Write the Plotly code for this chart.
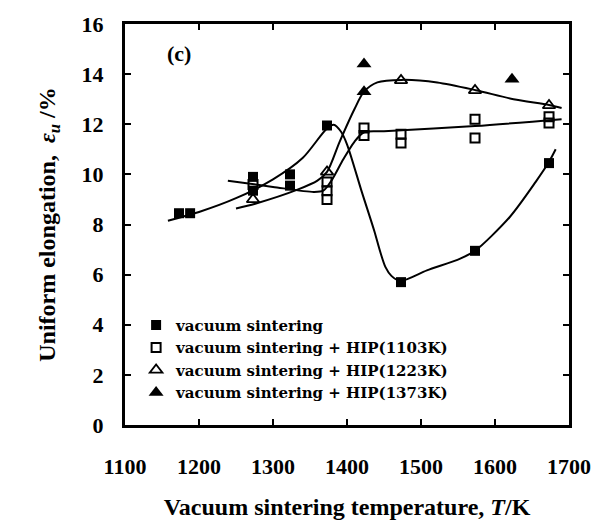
import plotly.graph_objects as go

# Measured points: sintering temperature (K) and uniform elongation (%)
vs_T = [1173, 1188, 1273, 1273, 1323, 1323, 1373, 1473, 1573, 1673]
vs_e = [8.45, 8.45, 9.9, 9.35, 10.0, 9.55, 11.95, 5.7, 6.95, 10.45]

hip1103_T = [1273, 1373, 1373, 1373, 1423, 1423, 1473, 1473, 1573, 1573, 1673, 1673]
hip1103_e = [9.6, 9.7, 9.35, 9.0, 11.85, 11.55, 11.6, 11.25, 12.2, 11.45, 12.3, 12.05]

hip1223_T = [1273, 1373, 1473, 1573, 1673]
hip1223_e = [9.0, 10.1, 13.75, 13.35, 12.75]

hip1373_T = [1423, 1423, 1623]
hip1373_e = [14.4, 13.3, 13.8]

# Hand-drawn trend curves (knots, rendered as splines)
fit_vs_T = [1158, 1200, 1250, 1300, 1340, 1372, 1382, 1392, 1400, 1420, 1437, 1445,
            1452, 1460, 1472, 1508, 1553, 1573, 1620, 1655, 1673, 1682]
fit_vs_e = [8.15, 8.5, 9.05, 9.8, 10.65, 11.8, 11.98, 11.7, 11.2, 9.3, 7.73, 6.9,
            6.3, 5.95, 5.75, 6.17, 6.64, 6.95, 8.3, 9.7, 10.5, 11.0]

fit_1103_T = [1239, 1300, 1355, 1368, 1380, 1395, 1410, 1423, 1450, 1573, 1690]
fit_1103_e = [9.75, 9.5, 9.3, 9.35, 9.8, 10.6, 11.3, 11.68, 11.72, 11.93, 12.2]

fit_1223_T = [1250, 1276, 1334, 1360, 1373, 1390, 1410, 1423, 1441, 1474, 1522, 1574,
              1625, 1673, 1690]
fit_1223_e = [8.64, 8.83, 9.4, 9.75, 10.1, 11.3, 12.6, 13.3, 13.67, 13.77, 13.67, 13.36,
              13.0, 12.77, 12.65]

x_ticks = [1100, 1200, 1300, 1400, 1500, 1600, 1700]
y_ticks = [0, 2, 4, 6, 8, 10, 12, 14, 16]

FONT = "Liberation Serif"
LEGEND_FONT = "DejaVu Serif"
INK = "black"

fig = go.Figure()

for tx, ty in [(fit_vs_T, fit_vs_e), (fit_1103_T, fit_1103_e), (fit_1223_T, fit_1223_e)]:
    fig.add_trace(go.Scatter(
        x=tx, y=ty, mode="lines", showlegend=False, hoverinfo="skip",
        line=dict(color=INK, width=2, shape="spline", smoothing=0.8),
    ))

series = [
    ("vacuum sintering", vs_T, vs_e, "square", 10, INK, 0),
    ("vacuum sintering + HIP(1103K)", hip1103_T, hip1103_e, "square-open", 9, INK, 2),
    ("vacuum sintering + HIP(1223K)", hip1223_T, hip1223_e, "triangle-up-open", 11, INK, 1.8),
    ("vacuum sintering + HIP(1373K)", hip1373_T, hip1373_e, "triangle-up", 13, INK, 0),
]
for name, xs, ys, sym, size, col, lw in series:
    fig.add_trace(go.Scatter(
        x=xs, y=ys, mode="markers", name=name,
        marker=dict(symbol=sym, size=size, color=col, line=dict(color=INK, width=lw)),
    ))

axis_common = dict(
    showline=True, linewidth=3, linecolor=INK, mirror="ticks",
    ticks="inside", ticklen=6, tickwidth=2, tickcolor=INK,
    showgrid=False, zeroline=False,
    tickfont=dict(family=FONT, size=22, color=INK, weight="bold"),
)

fig.update_xaxes(
    range=[1100, 1700], tickvals=x_ticks, ticktext=[str(v) for v in x_ticks],
    ticklabelstandoff=20,
    title=dict(text="Vacuum sintering temperature, <i>T</i>/K",
               font=dict(family=FONT, size=24, color=INK, weight="bold"), standoff=20),
    **axis_common,
)
fig.update_yaxes(
    range=[0, 16], tickvals=y_ticks, ticktext=[str(v) for v in y_ticks],
    ticklabelstandoff=14,
    title=dict(text="Uniform elongation,  <i>ε<sub>u</sub></i> /%",
               font=dict(family=FONT, size=24, color=INK, weight="bold"), standoff=20),
    **axis_common,
)

fig.add_annotation(
    x=0.09, y=0.963, xref="paper", yref="paper", text="(c)", showarrow=False,
    font=dict(family=FONT, size=22, color=INK, weight="bold"),
)

fig.update_layout(
    width=603, height=528,
    margin=dict(l=125, r=31, t=18, b=99),
    paper_bgcolor="white", plot_bgcolor="white",
    legend=dict(
        x=0.025, y=0.29, xanchor="left", yanchor="top",
        bgcolor="rgba(0,0,0,0)", borderwidth=0,
        font=dict(family=LEGEND_FONT, size=15, color=INK, weight="bold"),
        itemwidth=30, tracegroupgap=0,
    ),
)

fig.write_html("out.html")
